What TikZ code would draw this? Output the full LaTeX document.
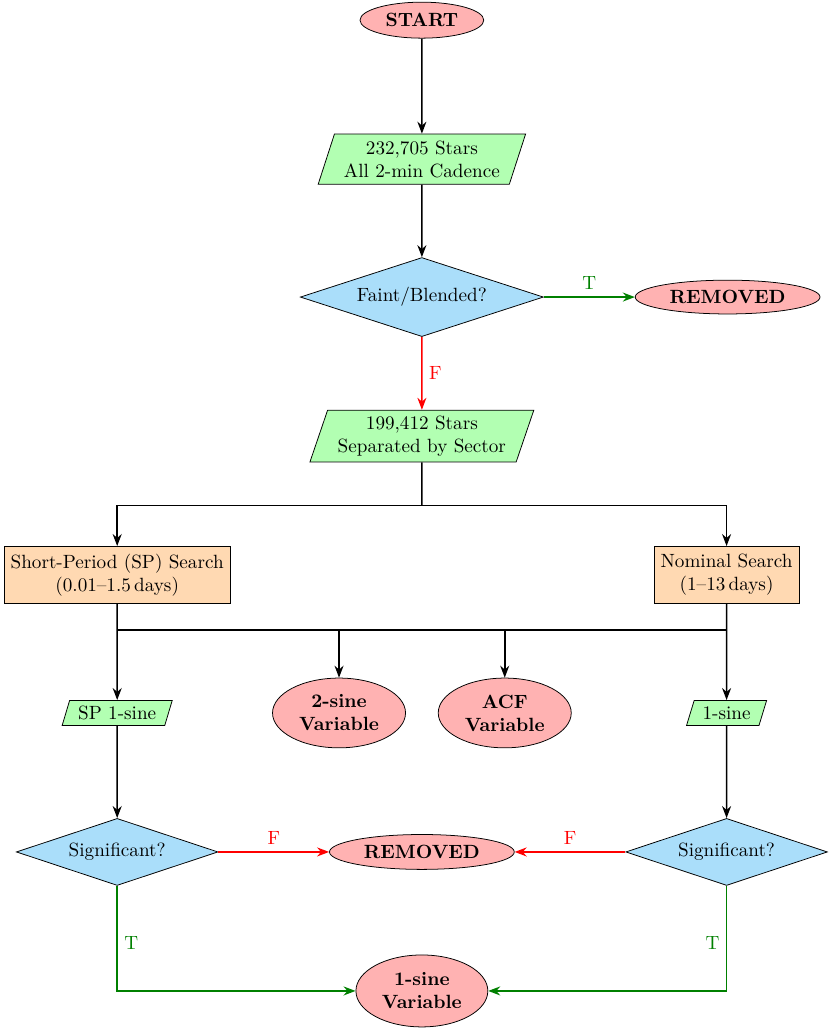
\documentclass[tikz,border=0pt]{standalone}
\usepackage[table]{xcolor}
\usepackage{tikz}
\usetikzlibrary{arrows.meta,positioning,shapes.geometric,calc}

\definecolor{decblue}{RGB}{170,222,250}

\begin{document}
\begin{tikzpicture}[
  term/.style={draw, ellipse, fill=red!30, font=\bfseries, align=center, inner sep=1pt},
  io/.style={draw, trapezium, trapezium left angle=70, trapezium right angle=110, trapezium stretches=true, fill=green!30, align=center, inner sep=1pt},
  decision/.style={draw, diamond, aspect=3, fill=decblue, inner sep=1pt},
  search/.style={draw, rectangle, fill=orange!30, align=center, minimum height=1.05cm},
  arr/.style={-{Stealth[length=2.2mm]}, thick},
  tarr/.style={arr, green!50!black},
  farr/.style={arr, red}
]
\useasboundingbox (-7.74,0.37) rectangle (7.48,-18.49);
\node[term, minimum width=2.27cm, minimum height=0.66cm] (start) at (0,0) {START};
\node[io, minimum width=3.81cm, minimum height=0.92cm] (stars) at (0,-2.55) {232,705 Stars\\All 2-min Cadence};
\node[decision, minimum width=4.46cm, minimum height=1.45cm] (faint) at (0,-5.08) {Faint/Blended?};
\node[term, minimum width=3.39cm, minimum height=0.62cm] (rm1) [right=1.67cm of faint] {REMOVED};
\node[io, minimum width=4.11cm, minimum height=0.95cm] (sectors) at (0,-7.63) {199,412 Stars\\Separated by Sector};
\coordinate (b1) at (0,-8.90);
\node[search] (sp) at (-5.59,-10.18) {Short-Period (SP) Search\\(0.01--1.5\,days)};
\node[search] (nom) at (5.59,-10.18) {Nominal Search\\(1--13\,days)};
\coordinate (b2) at (0,-11.19);
\node[io, minimum width=2.02cm, minimum height=0.46cm] (sp1) at (-5.59,-12.71) {SP 1-sine};
\node[term, minimum width=2.44cm, minimum height=1.28cm] (two) at (-1.52,-12.71) {2-sine\\Variable};
\node[term, minimum width=2.44cm, minimum height=1.28cm] (acf) at (1.52,-12.71) {ACF\\Variable};
\node[io, minimum width=1.47cm, minimum height=0.46cm] (one) at (5.59,-12.71) {1-sine};
\node[decision, minimum width=3.7cm, minimum height=1.23cm] (sigL) at (-5.59,-15.26) {Significant?};
\node[term, minimum width=3.39cm, minimum height=0.64cm] (rm2) at (0,-15.26) {REMOVED};
\node[decision, minimum width=3.7cm, minimum height=1.23cm] (sigR) at (5.59,-15.26) {Significant?};
\node[term, minimum width=2.42cm, minimum height=1.32cm] (var1) at (0,-17.81) {1-sine\\Variable};
% main chain
\draw[arr] (start)--(stars);
\draw[arr] (stars)--(faint);
\draw[tarr] (faint)--node[above]{T}(rm1);
\draw[farr] (faint)--node[right]{F}(sectors);
% split into searches
\draw[thick] (sectors)--(b1);
\draw[arr] (b1)-|(sp);
\draw[arr] (b1)-|(nom);
\draw[thick] (sp.south |- b2)--(nom.south |- b2);
\draw[arr] (sp)--(sp1);
\draw[arr] (nom)--(one);
\draw[arr] (two |- b2)--(two);
\draw[arr] (acf |- b2)--(acf);
% significance
\draw[arr] (sp1)--(sigL);
\draw[arr] (one)--(sigR);
\draw[farr] (sigL)--node[above]{F}(rm2);
\draw[farr] (sigR)--node[above]{F}(rm2);
\draw[tarr] (sigL)|-node[pos=0.27, right]{T}(var1);
\draw[tarr] (sigR)|-node[pos=0.27, left]{T}(var1);
\end{tikzpicture}
\end{document}
